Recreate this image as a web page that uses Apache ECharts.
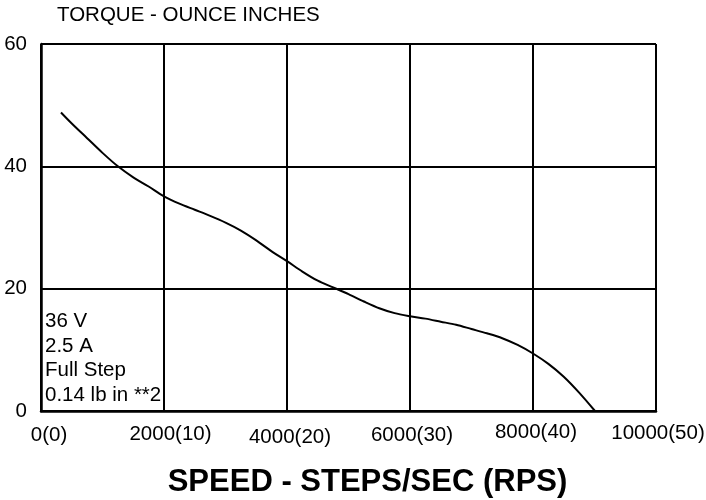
<!DOCTYPE html>
<html>
<head>
<meta charset="utf-8">
<script src="https://cdn.jsdelivr.net/npm/echarts@6/dist/echarts.min.js"></script>
<style>
  html, body { margin: 0; padding: 0; background: #fff; }
  #chart { width: 706px; height: 500px; }
</style>
</head>
<body>
<div id="chart"></div>
<script>
// speed in steps/sec, torque in ounce inches
var speed  = [325, 500, 750, 1000, 1250, 1500, 1750, 2000, 2250, 2500, 2750, 3000, 3250, 3500, 3750, 4000, 4250, 4500, 4750, 5000, 5250, 5500, 5750, 6000, 6250, 6500, 6750, 7000, 7250, 7500, 7750, 8000, 8250, 8500, 8750, 9008];
var torque = [48.8, 47.0, 44.6, 42.2, 40.0, 38.2, 36.7, 35.1, 33.9, 32.9, 31.9, 30.8, 29.5, 27.9, 26.1, 24.5, 22.8, 21.3, 20.2, 19.1, 17.9, 16.8, 16.0, 15.5, 15.1, 14.6, 14.1, 13.4, 12.7, 11.9, 10.8, 9.4, 7.7, 5.6, 3.0, 0];

var xTickLabels = ['0(0)', '2000(10)', '4000(20)', '6000(30)', '8000(40)', '10000(50)'];
var noteLines = ['36 V', '2.5 A', 'Full Step', '0.14 lb in **2'];

var FONT = 'Liberation Sans, Arial, sans-serif';
var FS = 20.5;

// small per-label nudges so the tick labels sit like in the original
var labelStyles = {
  t0: { padding: [1, 0, 0, 16] },
  t1: { padding: [0, 0, 0, 13] },
  t2: { padding: [3, 0, 0, 6] },
  t3: { padding: [1, 0, 0, 4] },
  t4: { padding: [-2, 0, 0, 6] },
  t5: { padding: [-1, 0, 0, 4] }
};
for (var k in labelStyles) {
  labelStyles[k].fontSize = FS;
  labelStyles[k].fontFamily = FONT;
  labelStyles[k].color = '#000';
}

var myChart = echarts.init(document.getElementById('chart'));

var points = [];
for (var i = 0; i < speed.length; i++) {
  points.push([speed[i], torque[i]]);
}

var option = {
  animation: false,
  backgroundColor: '#fff',
  grid: {
    left: 41,
    top: 44,
    right: 50,
    bottom: 89,
    outerBoundsMode: 'none'
  },
  xAxis: {
    type: 'value',
    min: 0,
    max: 10000,
    interval: 2000,
    name: 'SPEED - STEPS/SEC (RPS)',
    nameLocation: 'middle',
    nameGap: 56,
    nameTextStyle: {
      fontFamily: FONT,
      fontWeight: 'bold',
      fontSize: 31,
      color: '#000',
      padding: [0, 0, 0, 38]
    },
    axisLine: { show: true, lineStyle: { color: '#000', width: 2.5 } },
    axisTick: { show: false },
    splitLine: { show: true, lineStyle: { color: '#000', width: 2 } },
    axisLabel: {
      margin: 13,
      formatter: function (val) {
        var idx = Math.round(val / 2000);
        return '{t' + idx + '|' + xTickLabels[idx] + '}';
      },
      rich: labelStyles
    }
  },
  yAxis: {
    type: 'value',
    min: 0,
    max: 60,
    interval: 20,
    name: 'TORQUE - OUNCE INCHES',
    nameLocation: 'end',
    nameGap: 18,
    nameTextStyle: {
      fontFamily: FONT,
      fontSize: FS,
      color: '#000',
      align: 'left',
      padding: [0, 0, 0, 16]
    },
    axisLine: { show: true, lineStyle: { color: '#000', width: 2.5 } },
    axisTick: { show: false },
    splitLine: { show: true, lineStyle: { color: '#000', width: 2 } },
    axisLabel: {
      margin: 14,
      fontFamily: FONT,
      fontSize: FS,
      color: '#000'
    }
  },
  graphic: [{
    type: 'text',
    left: 45,
    top: 309,
    z: 10,
    style: {
      text: noteLines.join('\n'),
      fontFamily: FONT,
      fontSize: FS,
      lineHeight: 24.7,
      fill: '#000'
    }
  }],
  series: [{
    name: 'Torque',
    type: 'line',
    smooth: 0.3,
    showSymbol: false,
    lineStyle: { color: '#000', width: 2 },
    data: points
  }]
};

myChart.setOption(option);
</script>
</body>
</html>
